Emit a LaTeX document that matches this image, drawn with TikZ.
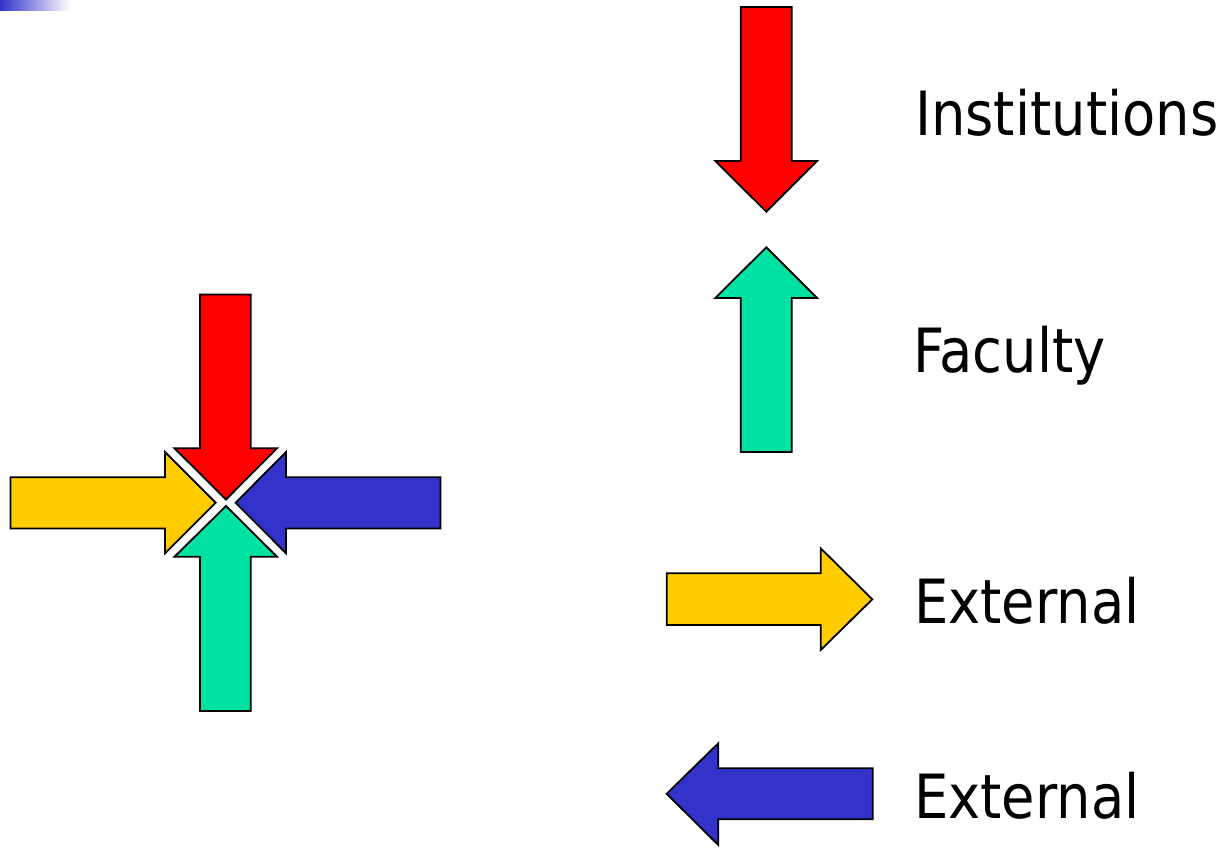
\documentclass[tikz,border=0pt]{standalone}
\usepackage{fontspec}
\setmainfont[FakeStretch=0.89]{DejaVu Sans}
\definecolor{aRed}{HTML}{FF0000}
\definecolor{aGreen}{HTML}{00E2A4}
\definecolor{aYellow}{HTML}{FFCC00}
\definecolor{aBlue}{HTML}{3333CC}
\tikzset{
  arrowshape/.style={draw=black, line width=1.8pt, line join=miter},
  lbl/.style={anchor=base west, inner sep=0pt, font=\fontsize{61}{70}\selectfont},
}
\begin{document}
\begin{tikzpicture}[x=1pt,y=-1pt]
\useasboundingbox (0,0) rectangle (1232,847);
% corner gradient bar
\shade[left color=aBlue, right color=white] (0,0) rectangle (70,10);
% ---- cross on the left ----
% red (down)
\filldraw[arrowshape, fill=aRed] (200,294.5) -- (250.7,294.5) -- (250.7,448.3) -- (277,448.3) -- (226,499.5) -- (174.5,448.3) -- (200,448.3) -- cycle;
% green (up)
\filldraw[arrowshape, fill=aGreen] (200,711) -- (250.7,711) -- (250.7,556.7) -- (277,556.7) -- (226,506) -- (174.5,556.7) -- (200,556.7) -- cycle;
% yellow (right)
\filldraw[arrowshape, fill=aYellow] (10.5,477.3) -- (165,477.3) -- (165,452) -- (215.7,502.7) -- (165,553.3) -- (165,528.5) -- (10.5,528.5) -- cycle;
% blue (left)
\filldraw[arrowshape, fill=aBlue] (440.5,477.3) -- (286,477.3) -- (286,452) -- (235.7,502.7) -- (286,553.3) -- (286,528.5) -- (440.5,528.5) -- cycle;
% ---- legend on the right ----
\filldraw[arrowshape, fill=aRed] (740.7,7) -- (791.7,7) -- (791.7,161) -- (817,161) -- (766.3,211.7) -- (715.3,161) -- (740.7,161) -- cycle;
\filldraw[arrowshape, fill=aGreen] (740.7,452) -- (791.7,452) -- (791.7,298) -- (817,298) -- (766.3,247.3) -- (715.3,298) -- (740.7,298) -- cycle;
\filldraw[arrowshape, fill=aYellow] (666.7,573.3) -- (820.7,573.3) -- (820.7,548.3) -- (872.3,599.3) -- (820.7,650) -- (820.7,625) -- (666.7,625) -- cycle;
\filldraw[arrowshape, fill=aBlue] (872.7,768.3) -- (718.3,768.3) -- (718.3,743.3) -- (666.7,793.8) -- (718.3,845) -- (718.3,819.3) -- (872.7,819.3) -- cycle;
% labels
\node[lbl] (tInst) at (915,135) {Institutions};
\node[lbl] (tFac) at (913,372) {Faculty};
\node[lbl] (tExt1) at (914,623.5) {External};
\node[lbl] (tExt2) at (914,818.5) {External};
\end{tikzpicture}
\end{document}
